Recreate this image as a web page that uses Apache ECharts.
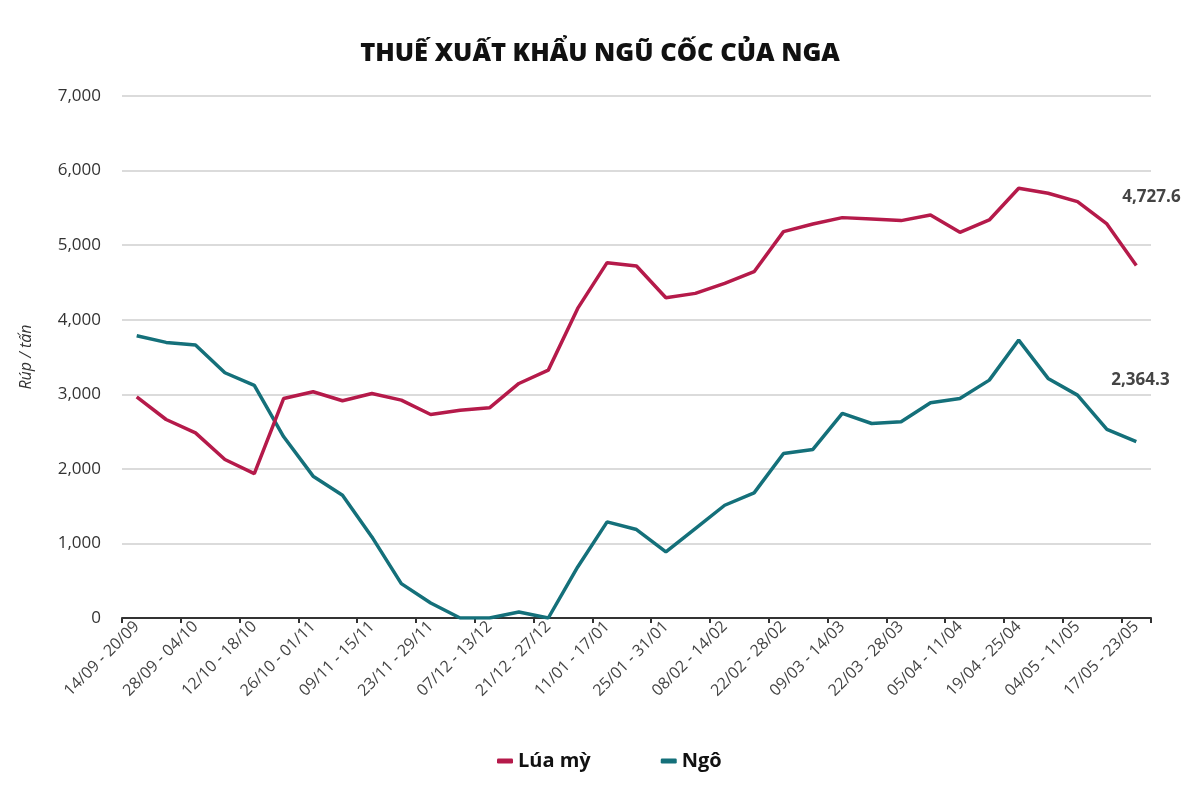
<!DOCTYPE html>
<html>
<head>
<meta charset="utf-8">
<title>Thuế xuất khẩu ngũ cốc của Nga</title>
<script src="https://cdn.jsdelivr.net/npm/echarts@6/dist/echarts.min.js"></script>
<style>
  html, body { margin: 0; padding: 0; background: #fff; }
  #chart { width: 1200px; height: 800px; }
</style>
</head>
<body>
<div id="chart"></div>
<script>
// tuần (chỉ nhãn chẵn được hiện)
var weeks = [
  '14/09 - 20/09', '21/09 - 27/09', '28/09 - 04/10', '05/10 - 11/10',
  '12/10 - 18/10', '19/10 - 25/10', '26/10 - 01/11', '02/11 - 08/11',
  '09/11 - 15/11', '16/11 - 22/11', '23/11 - 29/11', '30/11 - 06/12',
  '07/12 - 13/12', '14/12 - 20/12', '21/12 - 27/12', '28/12 - 10/01',
  '11/01 - 17/01', '18/01 - 24/01', '25/01 - 31/01', '01/02 - 07/02',
  '08/02 - 14/02', '15/02 - 21/02', '22/02 - 28/02', '01/03 - 08/03',
  '09/03 - 14/03', '15/03 - 21/03', '22/03 - 28/03', '29/03 - 04/04',
  '05/04 - 11/04', '12/04 - 18/04', '19/04 - 25/04', '26/04 - 03/05',
  '04/05 - 11/05', '12/05 - 16/05', '17/05 - 23/05'
];
// lúa mỳ, rúp / tấn
var wheat = [
  2966, 2662, 2483, 2125, 1937, 2944, 3034, 2913, 3011, 2922,
  2729, 2787, 2819, 3145, 3324, 4152, 4765, 4720, 4295, 4353,
  4488, 4644, 5181, 5284, 5369, 5351, 5329, 5405, 5172, 5338,
  5763, 5696, 5584, 5284, 4727.6
];
// ngô, rúp / tấn
var corn = [
  3785, 3696, 3660, 3289, 3119, 2430, 1902, 1647, 1087, 461,
  201, 0, 0, 81, 0, 685, 1289, 1186, 886, 1199,
  1512, 1678, 2206, 2260, 2743, 2608, 2631, 2886, 2944, 3190,
  3727, 3213, 2989, 2528, 2364.3
];
var yTicks = [0, 1000, 2000, 3000, 4000, 5000, 6000, 7000];

var FONT = '"Open Sans", "Noto Sans", sans-serif';
var RED = '#b51a4a';
var TEAL = '#14707a';

function fmt(v, dec) {
  return v.toLocaleString('en-US', { minimumFractionDigits: dec, maximumFractionDigits: dec });
}

// nhãn ở cuối đường
function endLabel(offset) {
  return {
    show: true,
    offset: offset,
    fontFamily: FONT,
    fontWeight: 'bold',
    fontSize: 17,
    color: '#444',
    formatter: function (p) { return fmt(p.value, 1); }
  };
}

var chart = echarts.init(document.getElementById('chart'));
var option = {
  backgroundColor: '#fff',
  animation: false,
  title: {
    text: 'THUẾ XUẤT KHẨU NGŨ CỐC CỦA NGA',
    left: 'center',
    top: 36,
    textStyle: { fontFamily: FONT, fontWeight: 800, fontSize: 25.5, color: '#111' }
  },
  legend: {
    left: 492,
    top: 746,
    itemGap: 70,
    itemWidth: 16,
    itemHeight: 5,
    icon: 'roundRect',
    textStyle: { fontFamily: FONT, fontWeight: 'bold', fontSize: 20, color: '#111' },
    data: ['Lúa mỳ', 'Ngô']
  },
  grid: { left: 122, right: 49, top: 96, bottom: 182, containLabel: false },
  xAxis: {
    type: 'category',
    data: weeks,
    boundaryGap: true,
    axisLine: { lineStyle: { color: '#333', width: 2 } },
    axisTick: { show: true, length: 5, interval: 1, lineStyle: { color: '#333', width: 2 } },
    axisLabel: {
      interval: 1,
      rotate: 45,
      margin: 6,
      fontFamily: FONT,
      fontSize: 16,
      color: '#444'
    }
  },
  yAxis: {
    type: 'value',
    min: yTicks[0],
    max: yTicks[yTicks.length - 1],
    interval: 1000,
    name: 'Rúp / tấn',
    nameLocation: 'middle',
    nameGap: 88,
    nameTextStyle: { fontFamily: FONT, fontStyle: 'italic', fontSize: 16, color: '#333' },
    axisLine: { show: false },
    axisTick: { show: false },
    axisLabel: {
      margin: 21,
      fontFamily: FONT,
      fontSize: 17,
      color: '#333',
      formatter: function (v) { return fmt(v, 0); }
    },
    splitLine: { lineStyle: { color: '#cfcfcf', width: 1.5 } }
  },
  series: [
    {
      name: 'Lúa mỳ',
      type: 'line',
      data: wheat,
      color: RED,
      showSymbol: false,
      symbol: 'none',
      lineStyle: { color: RED, width: 3.5 },
      endLabel: endLabel([-22, -68]),
      z: 3
    },
    {
      name: 'Ngô',
      type: 'line',
      data: corn,
      color: TEAL,
      showSymbol: false,
      symbol: 'none',
      lineStyle: { color: TEAL, width: 3.5 },
      endLabel: endLabel([-33, -62]),
      z: 2
    }
  ]
};
chart.setOption(option);
</script>
</body>
</html>
